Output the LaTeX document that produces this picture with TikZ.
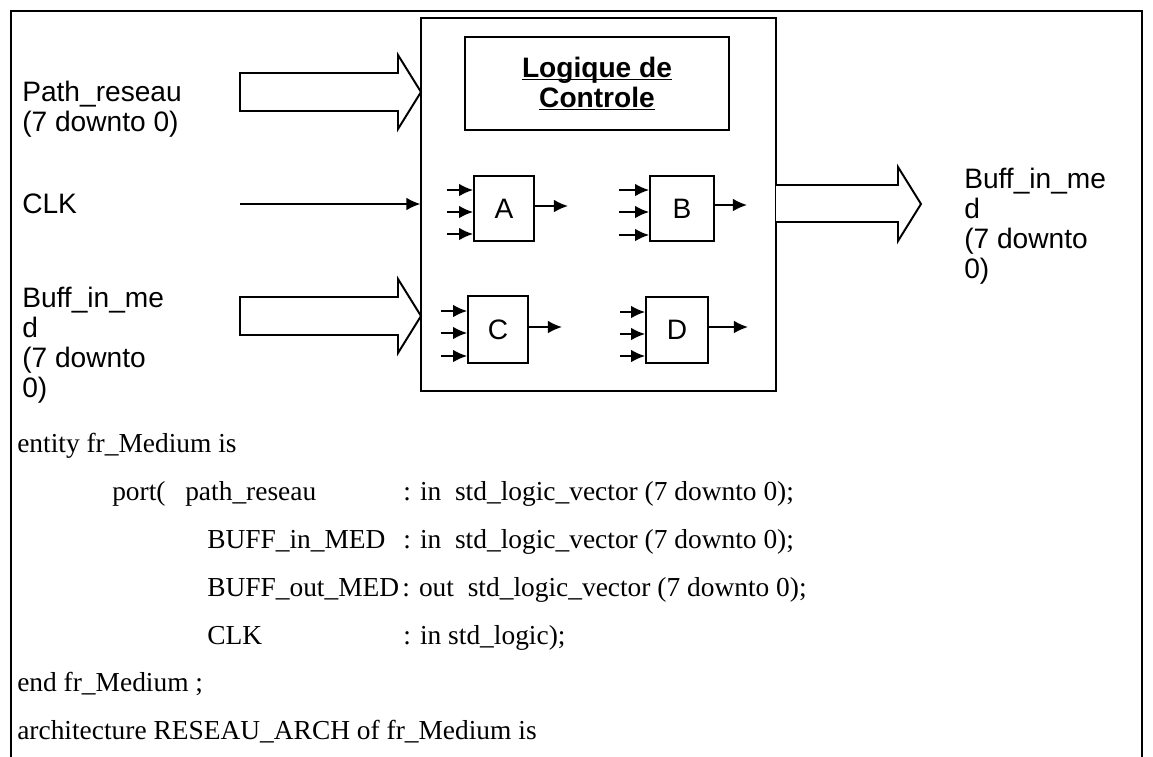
\documentclass[tikz,border=0pt]{standalone}
\usepackage{fontspec}
\setmainfont{Liberation Serif}
\setsansfont{Liberation Sans}
\usepackage{tikz}
\usetikzlibrary{arrows.meta,positioning,calc}
\newcommand{\ctrlul}[1]{\underline{\raisebox{0pt}[\height][0pt]{#1}}}
\tikzset{
  boxline/.style={line width=1.4pt, black},
  sig/.style={line width=1.2pt, -{Latex[length=10pt,width=9pt]}},
  busarrow/.style={line width=1.4pt, fill=white, line join=miter},
  gate/.style={draw, line width=1.3pt, inner sep=0pt, font=\sffamily\fontsize{20}{22}\selectfont},
  portlabel/.style={anchor=base west, inner sep=0pt, align=left, font=\sffamily\fontsize{20}{21.3}\selectfont},
  code/.style={anchor=base west, inner sep=0pt, font=\rmfamily\fontsize{19.5}{22}\selectfont}
}

\begin{document}
\begin{tikzpicture}[x=0.025cm, y=-0.025cm]
\useasboundingbox (0,0) rectangle (1153,757);

% Outer frame, open at the bottom
\draw[boxline] (11,757) -- (11,11) -- (1142,11) -- (1142,757);

% Entity box
\node[draw, line width=1.4pt, minimum width=8.85cm, minimum height=9.325cm, inner sep=0pt] (Entity) at (598.5,204.5) {};
\node[gate, minimum width=6.6cm, minimum height=2.325cm, align=center,
      font=\sffamily\bfseries\fontsize{20}{21.3}\selectfont] (Ctrl) at (597,83.5) {\ctrlul{Logique de}\\ \ctrlul{Controle}};

% Blocks
\node[gate, minimum width=1.5cm, minimum height=1.625cm] (A) at (504,208.5) {A};
\node[gate, minimum width=1.6cm, minimum height=1.625cm] (B) at (682,208.5) {B};
\node[gate, minimum width=1.5cm, minimum height=1.675cm] (C) at (498,329.5) {C};
\node[gate, minimum width=1.55cm, minimum height=1.65cm] (D) at (677,330) {D};

% Free ends of the small arrows
\coordinate (A1) at (447,190);
\coordinate (A2) at (447,212);
\coordinate (A3) at (447,234);
\coordinate (AO) at (568,206);
\coordinate (B1) at (619,190);
\coordinate (B2) at (619,212);
\coordinate (B3) at (619,235);
\coordinate (BO) at (747,205);
\coordinate (C1) at (441,311);
\coordinate (C2) at (441,333);
\coordinate (C3) at (441,356);
\coordinate (CO) at (562,327);
\coordinate (D1) at (620,312);
\coordinate (D2) at (620,334);
\coordinate (D3) at (620,356);
\coordinate (DO) at (748,327);

% Block inputs and outputs
\foreach \blk in {A,B,C,D}{
  \draw[sig] (\blk1) -- (\blk1 -| \blk.west);
  \draw[sig] (\blk2) -- (\blk2 -| \blk.west);
  \draw[sig] (\blk3) -- (\blk3 -| \blk.west);
  \draw[sig] (\blk O -| \blk.east) -- (\blk O);
}

% Bus arrows
\draw[busarrow] (240,73) -- (398,73) -- (398,55) -- (421,92) -- (398,129) -- (398,111) -- (240,111) -- cycle;
\draw[busarrow] (240,297) -- (398,297) -- (398,279) -- (421,316) -- (398,353) -- (398,335) -- (240,335) -- cycle;
\draw[busarrow] (776,185) -- (898,185) -- (898,167) -- (921,204) -- (898,241) -- (898,222) -- (776,222);

% Clock line
\coordinate (ClkStart) at (240,204);
\draw[sig] (ClkStart) -- (ClkStart -| Entity.west);

% Port labels
\node[portlabel] (LPath) at (22,131) {Path\_reseau\\(7 downto 0)};
\node[portlabel] (LClk) at (22,213) {CLK};
\node[portlabel] (LBuffIn) at (22,397) {Buff\_in\_me\\d\\(7 downto\\0)};
\node[portlabel] (LBuffOut) at (964,278) {Buff\_in\_me\\d\\(7 downto\\0)};

% VHDL text
\node[code] (L1) at (17,452) {entity fr\_Medium is};
\node[code] (L2) at (112,500) {port(};
\node[code] (L2b) at (185,500) {path\_reseau};
\node[code] (L2c) at (403,500) {: in\enspace std\_logic\_vector (7 downto 0);};
\node[code] (L3) at (207,548) {BUFF\_in\_MED};
\node[code] (L3c) at (403,548) {: in\enspace std\_logic\_vector (7 downto 0);};
\node[code] (L4) at (207,596) {BUFF\_out\_MED};
\node[code] (L4c) at (402,596) {: out\enspace std\_logic\_vector (7 downto 0);};
\node[code] (L5) at (207,644) {CLK};
\node[code] (L5c) at (403,644) {: in std\_logic);};
\node[code] (L6) at (17,691) {end fr\_Medium ;};
\node[code] (L7) at (17,739) {architecture RESEAU\_ARCH of fr\_Medium is};

\end{tikzpicture}
\end{document}
